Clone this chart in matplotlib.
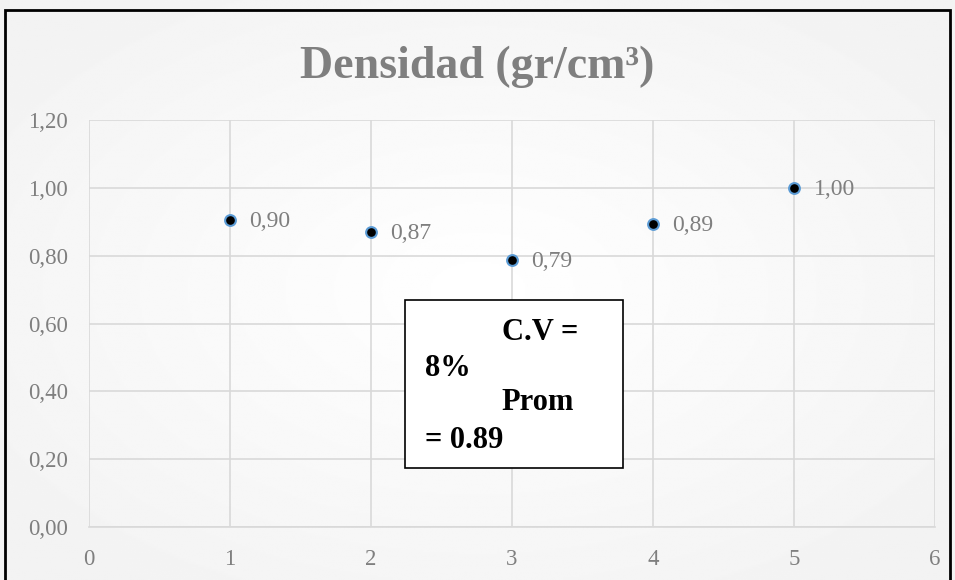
import numpy as np
import matplotlib
matplotlib.use("Agg")
import matplotlib.pyplot as plt
from matplotlib.patches import Rectangle

# data
muestras = [1, 2, 3, 4, 5]
densidad = [0.904, 0.870, 0.787, 0.893, 1.000]
etiquetas = ["0,90", "0,87", "0,79", "0,89", "1,00"]
y_ticks = [0.0, 0.2, 0.4, 0.6, 0.8, 1.0, 1.2]
y_tick_labels = ["0,00", "0,20", "0,40", "0,60", "0,80", "1,00", "1,20"]
x_ticks = [0, 1, 2, 3, 4, 5, 6]

plt.rcParams['font.family'] = ['Liberation Serif', 'DejaVu Serif']
gris = '#7f7f7f'

fig = plt.figure(figsize=(9.55, 5.8), dpi=100)

# subtle radial background
bg = fig.add_axes([0, 0, 1, 1], zorder=-10)
yy, xx = np.mgrid[-1:1:300j, -1:1:480j]
r = np.sqrt(xx**2 + yy**2)
bg.imshow(1 - 0.05 * np.clip(r / 1.3, 0, 1), cmap='gray', vmin=0, vmax=1,
          aspect='auto', extent=[0, 1, 0, 1])
bg.axis('off')

# outer border (bottom edge falls outside picture)
fig.patches.append(Rectangle((5 / 955, -0.05), 945 / 955, 1.05 - 10 / 580,
                             transform=fig.transFigure, fill=False,
                             edgecolor='black', linewidth=2))

ax = fig.add_axes([89 / 955, 53 / 580, 846 / 955, 407 / 580])
ax.patch.set_alpha(0)
ax.scatter(muestras, densidad, s=60, color='black', edgecolor='#5b9bd5',
           linewidth=1.5, zorder=3)
for x, y, lab in zip(muestras, densidad, etiquetas):
    ax.annotate(lab, (x, y), xytext=(14, -1), textcoords='offset points',
                va='center', ha='left', fontsize=17, color=gris)

ax.set_xlim(0, 6)
ax.set_ylim(0, 1.2)
ax.set_xticks(x_ticks)
ax.set_yticks(y_ticks)
ax.set_yticklabels(y_tick_labels)
ax.grid(True, color='#d9d9d9', linewidth=1.2)
ax.set_axisbelow(True)
for s in ['top', 'right', 'left']:
    ax.spines[s].set_visible(False)
ax.spines['bottom'].set_color('#d9d9d9')
ax.spines['bottom'].set_linewidth(1.2)
ax.tick_params(length=0, labelsize=16.5, labelcolor=gris)
ax.tick_params(axis='x', pad=16)
ax.tick_params(axis='y', pad=15)

fig.text(0.5, 0.885, "Densidad (gr/cm³)", ha='center', va='center',
         fontsize=33, fontweight='bold', color=gris)

# text box with statistics
fig.patches.append(Rectangle((405 / 955, 1 - 468 / 580), 218 / 955, 168 / 580,
                             transform=fig.transFigure, facecolor='white',
                             edgecolor='black', linewidth=1.2, zorder=5))
box_lines = [("C.V =", 502, 332), ("8%", 425, 368),
             ("Prom", 501, 403), ("= 0.89", 425, 440)]
for txt, px, py in box_lines:
    fig.text(px / 955, 1 - py / 580, txt, ha='left', va='center',
             fontsize=22, fontweight='bold', color='black', zorder=6)

fig.savefig("out.png", dpi=100)
